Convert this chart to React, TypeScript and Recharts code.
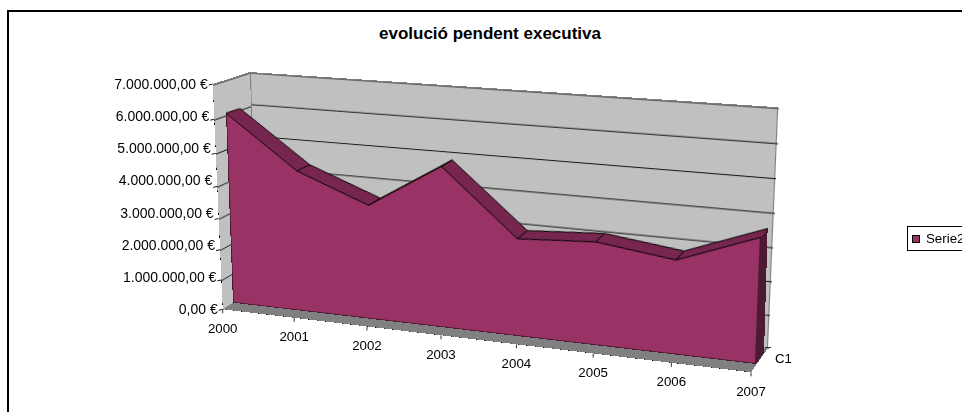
import { AreaChart, Area, XAxis, YAxis, CartesianGrid, ReferenceLine } from 'recharts';

const years = ['2000', '2001', '2002', '2003', '2004', '2005', '2006', '2007'];
const pendent = [5990000, 4380000, 3520000, 4880000, 2930000, 3060000, 2760000, 3630000];
const valueTicks = [0, 1000000, 2000000, 3000000, 4000000, 5000000, 6000000, 7000000];
const depthSides = ['davant', 'darrere'];

const chartData = years.map((year, i) => ({ year, value: pendent[i] }));
const firstValue = pendent[0];
const lastValue = pendent[pendent.length - 1];

const FONT = '"Liberation Sans", Arial, sans-serif';
const W = 530;
const H = 240;
const MAX = 7000000;

type Pt = [number, number];
type Quad = [Pt, Pt, Pt, Pt]; // top left, top right, bottom right, bottom left

// where each flat plane ends up in the picture
const backWall: Quad = [[250, 72], [778.3, 107.3], [768, 348], [256, 288.5]];
const leftWall: Quad = [[212.7, 84], [250, 72], [256, 288.5], [222.7, 309.3]];
const floor: Quad = [[256, 288.5], [768, 348], [751, 372.3], [222.7, 309.3]];
const frontFace: Quad = [[224.8, 80.1], [765.6, 115.5], [756, 364], [233, 302.7]];
const backFace: Quad = [[238.8, 76.3], [771.1, 109.4], [764, 353], [247, 294]];

// unit square to quad, then scaled to the local W x H
function homography(q: Quad) {
    const [[x0, y0], [x1, y1], [x2, y2], [x3, y3]] = q;
    const dx1 = x1 - x2, dx2 = x3 - x2, sx = x0 - x1 + x2 - x3;
    const dy1 = y1 - y2, dy2 = y3 - y2, sy = y0 - y1 + y2 - y3;
    const den = dx1 * dy2 - dx2 * dy1;
    const g = (sx * dy2 - dx2 * sy) / den;
    const h = (dx1 * sy - sx * dy1) / den;
    return [
        (x1 - x0 + g * x1) / W, (x3 - x0 + h * x3) / H, x0,
        (y1 - y0 + g * y1) / W, (y3 - y0 + h * y3) / H, y0,
        g / W, h / H, 1,
    ];
}

function project(m: number[], x: number, y: number): Pt {
    const d = m[6] * x + m[7] * y + m[8];
    return [(m[0] * x + m[1] * y + m[2]) / d, (m[3] * x + m[4] * y + m[5]) / d];
}

function unproject(m: number[], px: number, py: number): Pt {
    const [a, b, c, d, e, f, g, h, i] = m;
    const inv = [
        e * i - f * h, c * h - b * i, b * f - c * e,
        f * g - d * i, a * i - c * g, c * d - a * f,
        d * h - e * g, b * g - a * h, a * e - b * d,
    ];
    return project(inv, px, py);
}

const toCss = (m: number[]) =>
    `matrix3d(${m[0]},${m[3]},0,${m[6]},${m[1]},${m[4]},0,${m[7]},0,0,1,0,${m[2]},${m[5]},0,${m[8]})`;

const frontM = homography(frontFace);
const backM = homography(backFace);
const floorM = homography(floor);
const leftM = homography(leftWall);

// the two ends of the area: the plot top is exactly the end value
function endQuad(x: number, value: number): Quad {
    const y = H * (1 - value / MAX);
    return [project(frontM, x, y), project(backM, x, y), project(backM, x, H), project(frontM, x, H)];
}

function Plane({ quad, style, children }: { quad: Quad; style?: React.CSSProperties; children?: React.ReactNode }) {
    return (
        <div
            style={{
                position: 'absolute',
                left: 0,
                top: 0,
                width: W,
                height: H,
                boxSizing: 'border-box',
                transformOrigin: '0 0',
                transform: toCss(homography(quad)),
                ...style,
            }}
        >
            {children}
        </div>
    );
}

function WallGrid() {
    return (
        <AreaChart width={W} height={H} data={chartData} margin={{ top: 0, right: 0, bottom: 0, left: 0 }}>
            <CartesianGrid vertical={false} stroke="#111111" />
            <XAxis dataKey="year" hide />
            <YAxis hide domain={[0, MAX]} ticks={valueTicks} />
            <Area dataKey="value" fill="none" stroke="none" activeDot={false} isAnimationActive={false} />
        </AreaChart>
    );
}

// line from a front vertex back to the same vertex on the rear face
function DepthEdge(props: any) {
    const { cx, cy, index } = props;
    const [px, py] = project(backM, cx, cy);
    const [lx, ly] = unproject(frontM, px, py);
    return <line key={index} x1={cx} y1={cy} x2={lx} y2={ly} stroke="#000000" strokeWidth={1} />;
}

function Face({ fill, front }: { fill: string; front?: boolean }) {
    const last = chartData[chartData.length - 1];
    return (
        <AreaChart width={W} height={H} data={chartData} margin={{ top: 0, right: 0, bottom: 0, left: 0 }} style={{ overflow: 'visible' }}>
            <XAxis dataKey="year" hide />
            <YAxis hide domain={[0, MAX]} />
            <Area
                type="linear"
                dataKey="value"
                fill={fill}
                fillOpacity={1}
                stroke="#000000"
                strokeWidth={1}
                dot={front ? DepthEdge : false}
                activeDot={false}
                isAnimationActive={false}
            />
            {front && <ReferenceLine segment={[{ x: years[0], y: 0 }, { x: years[0], y: firstValue }]} stroke="#000000" />}
            <ReferenceLine segment={[{ x: last.year, y: 0 }, { x: last.year, y: last.value }]} stroke="#000000" />
            <ReferenceLine y={0} stroke="#000000" />
        </AreaChart>
    );
}

function EndFace({ value, fill }: { value: number; fill: string }) {
    const data = depthSides.map((side) => ({ side, value }));
    return (
        <AreaChart width={W} height={H} data={data} margin={{ top: 0, right: 0, bottom: 0, left: 0 }}>
            <XAxis dataKey="side" hide />
            <YAxis hide domain={[0, value]} />
            <Area type="linear" dataKey="value" fill={fill} fillOpacity={1} stroke="none" activeDot={false} isAnimationActive={false} />
        </AreaChart>
    );
}

function YearTick(props: any) {
    const { x, payload } = props;
    const [px, py] = project(floorM, x - 1, H);
    return (
        <g>
            <line x1={px} y1={py} x2={px} y2={py + 4} stroke="#333333" />
            <text x={px} y={py + 19} textAnchor="middle" dominantBaseline="central" fontFamily={FONT} fontSize={13.3} fill="#000000">
                {payload.value}
            </text>
        </g>
    );
}

const euro = (v: number) =>
    `${Math.round(v).toString().replace(/\B(?=(\d{3})+$)/g, '.')},00 €`;

function ValueTick(props: any) {
    const { y, payload } = props;
    const [px, py] = project(leftM, 0, H * (1 - payload.value / MAX));
    return (
        <g>
            <line x1={px - 4} y1={py + 1} x2={px} y2={py} stroke="#111111" />
            <text x={px - 5} y={y} textAnchor="end" dominantBaseline="central" fontFamily={FONT} fontSize={14} fill="#000000">
                {euro(payload.value)}
            </text>
        </g>
    );
}

export default function App() {
    return (
        <div style={{ position: 'fixed', left: 0, top: 0, width: 962, height: 412, overflow: 'hidden', background: '#ffffff', fontFamily: FONT }}>
            <div style={{ position: 'absolute', left: 7, top: 10, width: 1000, height: 500, border: '2px solid #000000' }} />
            <div style={{ position: 'absolute', left: 290, width: 400, top: 24, textAlign: 'center', fontSize: 17, fontWeight: 'bold', color: '#000000' }}>
                evolució pendent executiva
            </div>

            <Plane quad={backWall} style={{ background: '#c0c0c0', borderTop: '1px solid #808080', borderRight: '1px solid #808080', borderLeft: '1px solid #808080' }}>
                <WallGrid />
            </Plane>
            <Plane quad={leftWall} style={{ background: '#c0c0c0', borderTop: '1px solid #808080', borderLeft: '1px solid #000000' }}>
                <WallGrid />
            </Plane>
            <Plane quad={floor} style={{ background: '#808080', borderBottom: '1px solid #000000' }} />
            <Plane quad={backFace}>
                <Face fill="#77264f" />
            </Plane>
            <Plane quad={endQuad(0, firstValue)}>
                <EndFace value={firstValue} fill="#77264f" />
            </Plane>
            <Plane quad={endQuad(W, lastValue)}>
                <EndFace value={lastValue} fill="#4c1a33" />
            </Plane>
            <Plane quad={frontFace}>
                <Face fill="#993366" front />
            </Plane>

            <div style={{ position: 'absolute', left: 0, top: 0 }}>
                <AreaChart width={962} height={412} data={chartData} margin={{ top: 84, right: 962 - W - 1, bottom: 102, left: 0 }}>
                    <XAxis dataKey="year" height={1} axisLine={false} tickLine={false} interval={0} tick={YearTick} />
                    <YAxis width={1} domain={[0, MAX]} ticks={valueTicks} axisLine={false} tickLine={false} interval={0} tick={ValueTick} />
                    <Area dataKey="value" fill="none" stroke="none" activeDot={false} isAnimationActive={false} />
                </AreaChart>
            </div>

            <div style={{ position: 'absolute', left: 765, top: 347, width: 6, height: 1, background: '#333333' }} />
            <div style={{ position: 'absolute', left: 775, top: 351, fontSize: 13.3, color: '#000000' }}>C1</div>

            <div style={{ position: 'absolute', left: 907, top: 226, width: 80, height: 25, border: '1px solid #000000', boxSizing: 'border-box' }}>
                <div style={{ position: 'absolute', left: 4, top: 8, width: 8, height: 8, background: '#993366', border: '1px solid #000000', boxSizing: 'border-box' }} />
                <div style={{ position: 'absolute', left: 18, top: 4, fontSize: 13.3, color: '#000000', whiteSpace: 'nowrap' }}>Serie2</div>
            </div>
        </div>
    );
}
